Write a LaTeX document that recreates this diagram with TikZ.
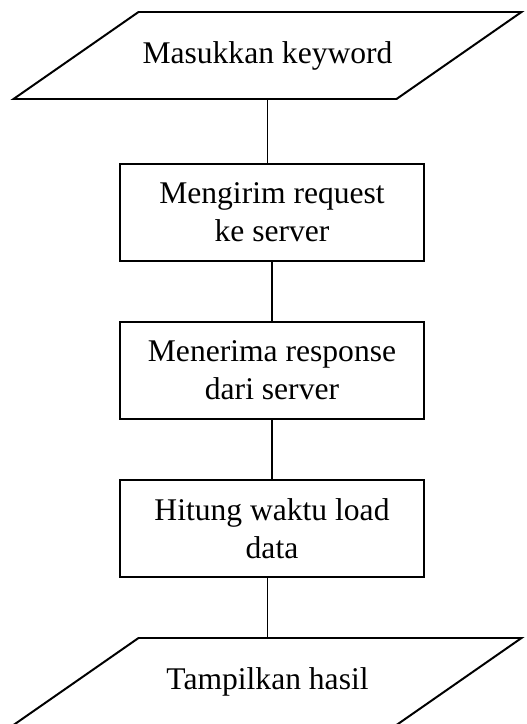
\documentclass[tikz,border=0pt]{standalone}
\usepackage{fontspec}
\setmainfont{Liberation Serif}

\begin{document}
\begin{tikzpicture}[x=0.38pt,y=-0.38pt,line width=0.75pt,
  proc/.style={draw,rectangle,align=center,minimum width=115.5pt,minimum height=36.9pt,inner sep=0pt},
  font=\fontsize{12pt}{14.4pt}\selectfont]
\useasboundingbox (0,0) rectangle (527,724);
% Input and output
\node (kw) at (267.5,55.5) {Masukkan keyword};
\node (out) at (267.5,681.5) {Tampilkan hasil};
% Parallelograms round them
\draw ([shift={(-129,-43.5)}]kw.center) -- ++(383,0) -- ++(-125,87) -- ++(-383,0) -- cycle;
\draw ([shift={(-129,-43.5)}]out.center) -- ++(383,0) -- ++(-125,87) -- ++(-383,0) -- cycle;
\path (kw.center) ++(0,43.5) coordinate (kw-s);
\path (out.center) ++(0,-43.5) coordinate (out-n);
% Process steps
\node[proc] (req) at (272,212.5) {Mengirim request\\ke server};
\node[proc] (resp) at (272,370.5) {Menerima response\\dari server};
\node[proc] (load) at (272,528.5) {Hitung waktu load\\data};
% Connectors
\draw (kw-s) -- (kw-s |- req.north);
\draw (req) -- (resp);
\draw (resp) -- (load);
\draw (load.south -| out-n) -- (out-n);
\end{tikzpicture}
\end{document}
